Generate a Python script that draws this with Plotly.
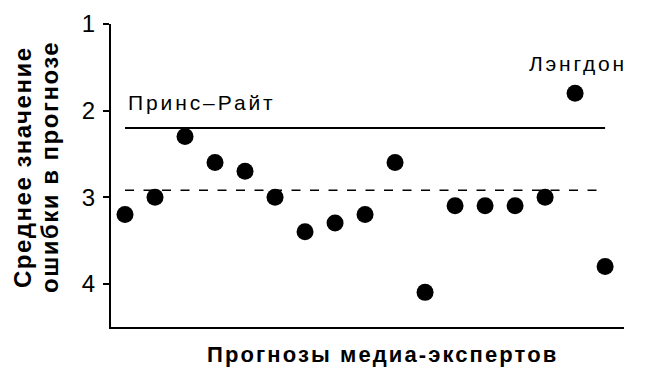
import plotly.graph_objects as go

experts = list(range(1, 18))
errors = [3.2, 3.0, 2.3, 2.6, 2.7, 3.0, 3.4, 3.3, 3.2, 2.6, 4.1, 3.1, 3.1, 3.1, 3.0, 1.8, 3.8]
prince_wright = 2.2
average_error = 2.92
y_ticks = [1, 2, 3, 4]
y_title_lines = ["Среднее значение", "ошибки в прогнозе"]
x_title = "Прогнозы медиа-экспертов"

FONT = "Liberation Sans"


def spaced(txt, sp):
    return f'<span style="letter-spacing:{sp}px">{txt}</span>'


fig = go.Figure()
fig.add_trace(go.Scatter(x=[experts[0], experts[-1]], y=[prince_wright, prince_wright],
                         mode="lines", line=dict(color="black", width=2), hoverinfo="skip"))
fig.add_trace(go.Scatter(x=[experts[0], experts[-1]], y=[average_error, average_error],
                         mode="lines", line=dict(color="black", width=1.5, dash="9px,9.5px"),
                         hoverinfo="skip"))
fig.add_trace(go.Scatter(x=experts, y=errors, mode="markers",
                         marker=dict(color="black", size=17)))

fig.add_annotation(x=1, y=prince_wright, xref="x", yref="y", text=spaced("Принс–Райт", 2.9),
                   showarrow=False, xanchor="left", yanchor="bottom", yshift=12, xshift=1,
                   font=dict(family=FONT, size=21, color="black"))
fig.add_annotation(x=16, y=errors[15], xref="x", yref="y", text=spaced("Лэнгдон", 2.8),
                   showarrow=False, xanchor="center", yanchor="bottom", yshift=16, xshift=3,
                   font=dict(family=FONT, size=21, color="black"))

for xp, line in zip([-0.1735, -0.1209], y_title_lines):
    fig.add_annotation(x=xp, y=0.528, xref="paper", yref="paper", xanchor="center", yanchor="middle",
                       text="<b>" + spaced(line, 1.5) + "</b>",
                       showarrow=False, textangle=-90,
                       font=dict(family=FONT, size=24, color="black"))
fig.add_annotation(x=0.529, y=-0.043, xref="paper", yref="paper",
                   text="<b>" + spaced(x_title, 2.1) + "</b>",
                   showarrow=False, xanchor="center", yanchor="top",
                   font=dict(family=FONT, size=22, color="black"))

fig.update_layout(
    width=642, height=363,
    margin=dict(l=103, r=26, t=16, b=44),
    paper_bgcolor="white", plot_bgcolor="white",
    showlegend=False,
    font=dict(family=FONT, color="black"),
)
fig.update_xaxes(range=[0.533, 17.63], showgrid=False, zeroline=False, showticklabels=False,
                 ticks="", showline=True, linecolor="black", linewidth=2, automargin=False)
fig.update_yaxes(range=[4.5, 1], tickvals=y_ticks, showgrid=False, zeroline=False,
                 ticks="outside", ticklen=6, tickwidth=2, tickcolor="black",
                 showline=True, linecolor="black", linewidth=2, automargin=False,
                 tickfont=dict(family=FONT, size=24, color="black"), ticklabelstandoff=3)

fig.write_html("out.html")
